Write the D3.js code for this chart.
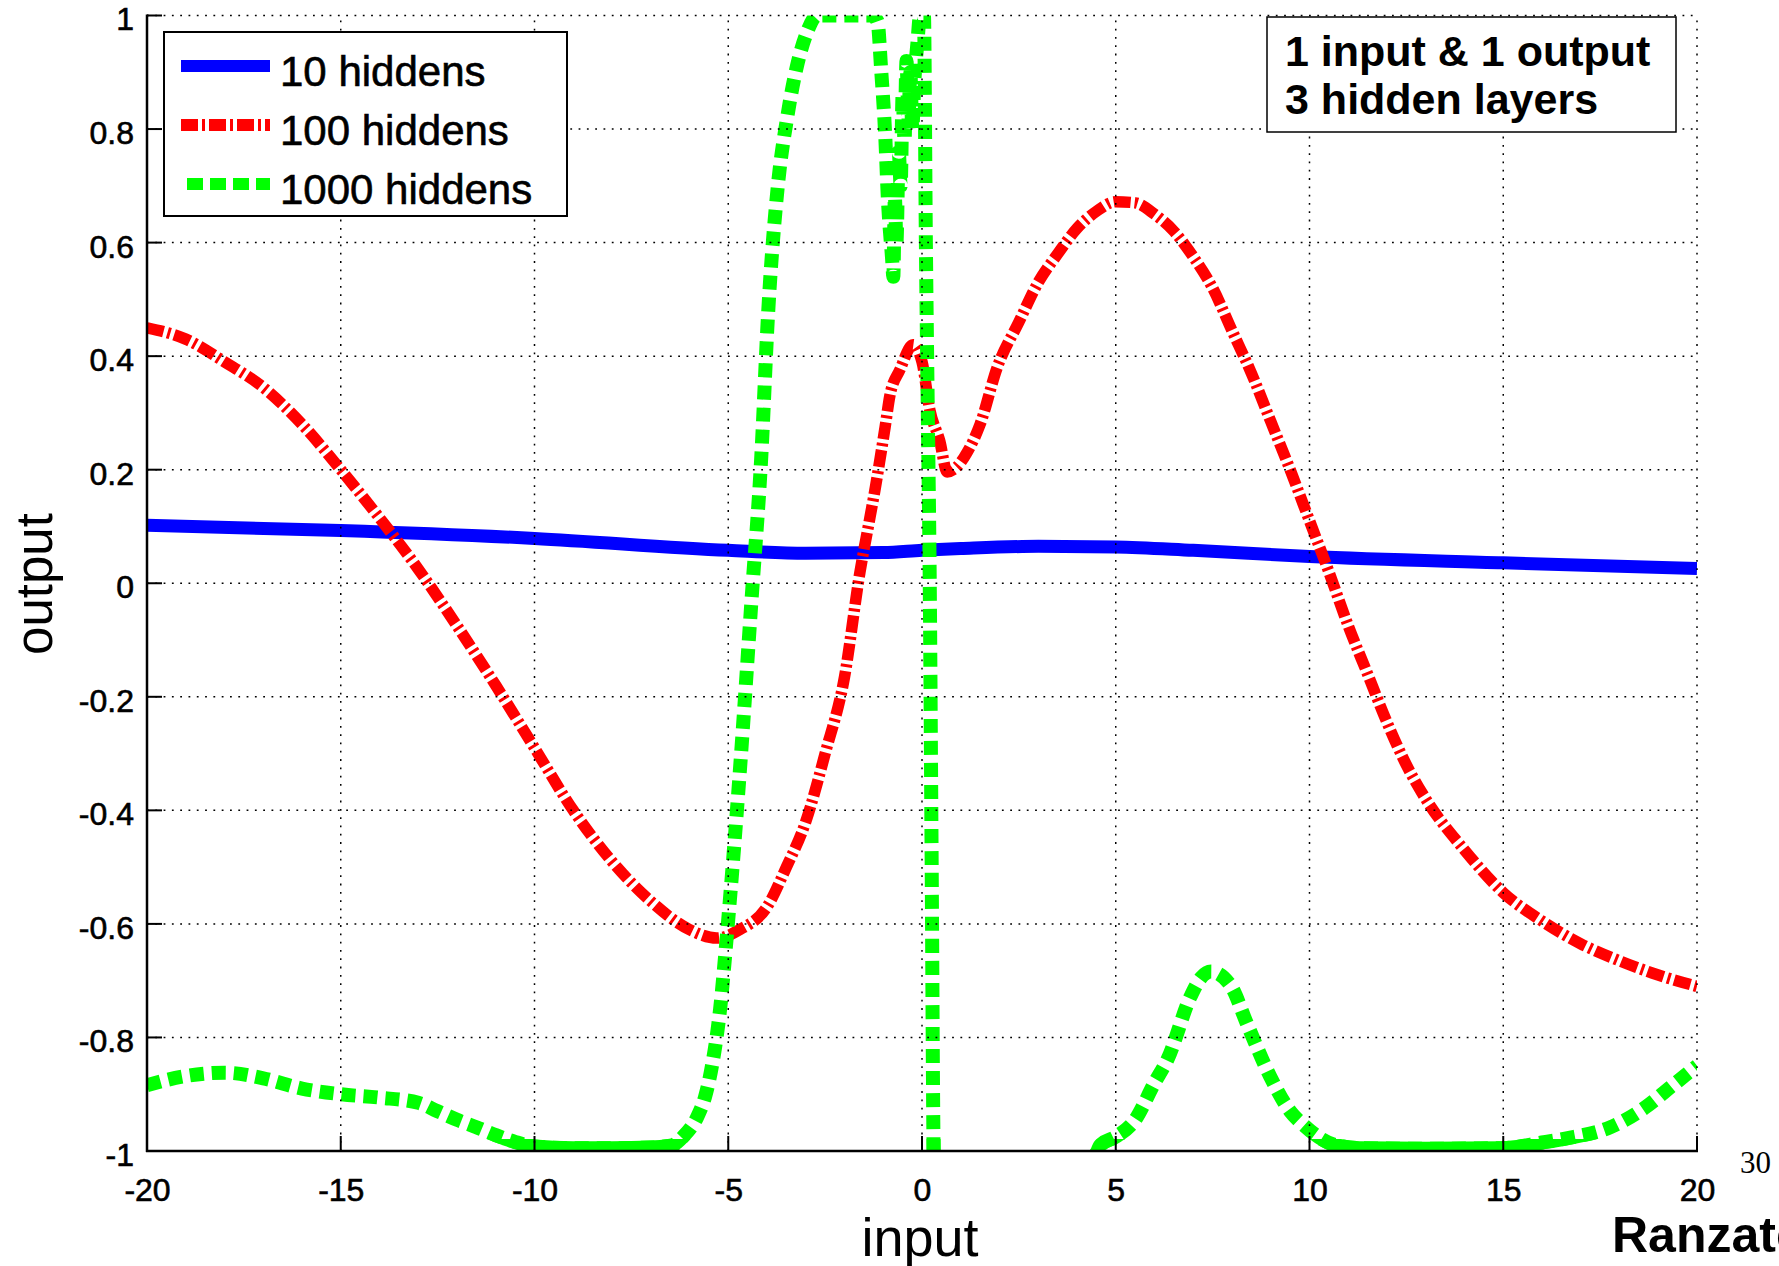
<!DOCTYPE html>
<html>
<head>
<meta charset="utf-8">
<script src="https://cdn.jsdelivr.net/npm/d3@7"></script>
<style>
  html, body { margin: 0; padding: 0; background: #fff; }
  svg { display: block; }
</style>
</head>
<body>
<script>
// ---------- data ----------
const xTicks = [-20, -15, -10, -5, 0, 5, 10, 15, 20];
const xTickLabels = ["-20", "-15", "-10", "-5", "0", "5", "10", "15", "20"];
const yTicks = [-1, -0.8, -0.6, -0.4, -0.2, 0, 0.2, 0.4, 0.6, 0.8, 1];
const yTickLabels = ["-1", "-0.8", "-0.6", "-0.4", "-0.2", "0", "0.2", "0.4", "0.6", "0.8", "1"];

const seriesNames = ["10 hiddens", "100 hiddens", "1000 hiddens"];
const annotationLines = ["1 input & 1 output", "3 hidden layers"];

const blueX = [-20, -15, -10, -5, -3, -1, 0, 1, 3, 5, 7, 10, 15, 20];
const blueY = [0.102, 0.093, 0.079, 0.058, 0.053, 0.054, 0.058, 0.061, 0.065, 0.064, 0.058, 0.047, 0.036, 0.026];

const redX = [-20, -19, -18, -17, -16, -15, -14, -13, -12, -11, -10, -9, -8, -7, -6, -5.3, -4.7, -4, -3.5, -3, -2.5, -2, -1.6,
  -1.34, -1.2, -1.08, -0.95, -0.83, -0.57, -0.23, 0, 0.2, 0.46, 0.65, 0.9, 1.16, 1.5, 1.94, 2.5, 3, 3.5, 4, 4.5, 5, 5.5, 6,
  6.5, 7, 7.5, 8, 8.5, 9, 9.5, 10, 10.5, 11, 11.5, 12, 12.5, 13, 14, 15, 16, 17, 18, 19, 20];
const redY = [0.45, 0.43, 0.39, 0.345, 0.28, 0.20, 0.115, 0.025, -0.075, -0.18, -0.29, -0.40, -0.49, -0.56, -0.61, -0.625, -0.61,
  -0.57, -0.5, -0.42, -0.3, -0.165, 0.02, 0.117, 0.17, 0.22, 0.276, 0.33, 0.376, 0.42, 0.39, 0.306, 0.25, 0.196, 0.205, 0.23,
  0.28, 0.38, 0.46, 0.53, 0.58, 0.625, 0.655, 0.672, 0.67, 0.65, 0.62, 0.575, 0.52, 0.445, 0.37, 0.285, 0.2, 0.11, 0.02, -0.075,
  -0.16, -0.245, -0.32, -0.38, -0.47, -0.545, -0.595, -0.635, -0.665, -0.69, -0.71];

const greenX = [-20, -19, -18, -17, -16, -15, -14, -13, -12.5, -12, -11.5, -11, -10.5, -10, -9, -8, -7, -6.45, -6.17, -5.8,
  -5.6, -5.42, -5.21, -5.03, -4.7, -4.4, -4.15, -3.97, -3.72, -3.48, -3.23, -2.97, -2.7, -2.0, -1.3, -1.15, -1.05, -0.95,
  -0.88, -0.77, -0.74, -0.7, -0.66, -0.6, -0.55, -0.5, -0.45, -0.4, -0.35, -0.3, -0.25, -0.2, -0.12, -0.05, 0.05, 0.1, 0.15,
  0.2, 0.25, 0.3, 0.35, 1, 3, 4.3, 4.6, 5, 5.47, 6, 6.34, 6.93, 7.2, 7.46, 7.96, 8.4, 8.98, 9.5, 9.86, 10.6, 11.3, 13, 15, 16,
  16.6, 17.77, 18.65, 19.38, 20];
const greenY = [-0.884, -0.868, -0.862, -0.872, -0.89, -0.9, -0.906, -0.915, -0.93, -0.945, -0.958, -0.972, -0.984, -0.992,
  -0.995, -0.995, -0.994, -0.99, -0.975, -0.94, -0.905, -0.85, -0.75, -0.616, -0.33, -0.03, 0.22, 0.477, 0.70, 0.82, 0.91,
  0.97, 1.0, 1.0, 1.0, 0.99, 0.9, 0.79, 0.676, 0.57, 0.54, 0.68, 0.6, 0.76, 0.7, 0.86, 0.78, 0.92, 0.82, 0.9, 0.8, 0.88,
  0.95, 1.0, 1.0, 0.6, 0.3, 0.0, -0.5, -1.0, -1.1, -1.2, -1.2, -1.05, -0.99, -0.975, -0.948, -0.88, -0.838, -0.728, -0.695,
  -0.684, -0.708, -0.778, -0.868, -0.93, -0.955, -0.988, -0.995, -0.996, -0.995, -0.985, -0.978, -0.958, -0.924, -0.884, -0.85];

// ---------- layout ----------
const W = 1779, H = 1266;
const plot = { left: 147, right: 1697, top: 15.5, bottom: 1151 };
const FONT = "'Liberation Sans', Arial, Helvetica, sans-serif";

const svg = d3.select("body").append("svg").attr("width", W).attr("height", H)
  .style("font-family", FONT);

const x = d3.scaleLinear().domain([-20, 20]).range([plot.left, plot.right]);
const y = d3.scaleLinear().domain([-1, 1]).range([plot.bottom, plot.top]);

const defs = svg.append("defs");
defs.append("clipPath").attr("id", "plotclip").append("rect")
  .attr("x", plot.left).attr("y", plot.top).attr("width", plot.right - plot.left).attr("height", plot.bottom - plot.top);
defs.append("clipPath").attr("id", "bandclip").append("rect")
  .attr("x", plot.left).attr("y", plot.bottom - 12).attr("width", plot.right - plot.left).attr("height", 12);

const toPts = (xs, ys) => xs.map((v, i) => [v, ys[i]]);
const line = d3.line().x(d => x(d[0])).y(d => y(d[1])).curve(d3.curveMonotoneX);

const g = svg.append("g").attr("clip-path", "url(#plotclip)");

const blue = "#0000ff", red = "#ff0000", green = "#00ff00";

g.append("path").datum(toPts(blueX, blueY)).attr("d", line)
  .attr("fill", "none").attr("stroke", blue).attr("stroke-width", 13);

g.append("path").datum(toPts(redX, redY)).attr("d", line)
  .attr("fill", "none").attr("stroke", red).attr("stroke-width", 11.5)
  .attr("stroke-dasharray", "17,4,3,4");

g.append("path").datum(toPts(greenX, greenY)).attr("d", line)
  .attr("fill", "none").attr("stroke", green).attr("stroke-width", 14)
  .attr("stroke-dasharray", "14,8");

// solid appearance where the green curve rests on the lower bound
svg.append("g").attr("clip-path", "url(#bandclip)")
  .append("path").datum(toPts(greenX, greenY)).attr("d", line)
  .attr("fill", "none").attr("stroke", green).attr("stroke-width", 14);

// ---------- grid (drawn on top, dotted) ----------
const grid = svg.append("g").attr("stroke", "#000").attr("stroke-width", 1.5).attr("stroke-dasharray", "1.8,6.5");
grid.selectAll(".vg").data(xTicks.filter(t => t !== -20)).enter().append("line")
  .attr("x1", d => x(d)).attr("x2", d => x(d)).attr("y1", plot.bottom).attr("y2", plot.top);
grid.selectAll(".hg").data(yTicks.filter(t => t !== -1)).enter().append("line")
  .attr("x1", plot.left).attr("x2", plot.right).attr("y1", d => y(d)).attr("y2", d => y(d));

// ---------- axes ----------
const xAxis = d3.axisBottom(x).tickValues(xTicks).tickSize(0).tickFormat((d, i) => xTickLabels[i]);
const yAxis = d3.axisLeft(y).tickValues(yTicks).tickSize(0).tickFormat((d, i) => yTickLabels[i]);

const gx = svg.append("g").attr("transform", `translate(0,${plot.bottom})`).call(xAxis);
gx.select(".domain").remove();
gx.selectAll("text").attr("font-size", 32).attr("fill", "#000").attr("dy", null).attr("y", 50)
  .attr("stroke", "#000").attr("stroke-width", 0.6)
  .style("font-family", FONT);

const gy = svg.append("g").attr("transform", `translate(${plot.left},0)`).call(yAxis);
gy.select(".domain").remove();
gy.selectAll("text").attr("font-size", 32).attr("fill", "#000").attr("x", -13).attr("dy", "0.45em")
  .attr("stroke", "#000").attr("stroke-width", 0.6)
  .style("font-family", FONT);

// inward tick marks
const ticks = svg.append("g").attr("stroke", "#000").attr("stroke-width", 2);
ticks.selectAll(".xt").data(xTicks).enter().append("line")
  .attr("x1", d => x(d)).attr("x2", d => x(d)).attr("y1", plot.bottom).attr("y2", plot.bottom - 15);
ticks.selectAll(".yt").data(yTicks).enter().append("line")
  .attr("x1", plot.left).attr("x2", plot.left + 15).attr("y1", d => y(d)).attr("y2", d => y(d));

// axis lines
svg.append("line").attr("x1", plot.left).attr("x2", plot.left).attr("y1", plot.top - 1).attr("y2", plot.bottom + 1)
  .attr("stroke", "#000").attr("stroke-width", 2.5);
svg.append("line").attr("x1", plot.left - 1).attr("x2", plot.right + 1).attr("y1", plot.bottom).attr("y2", plot.bottom)
  .attr("stroke", "#000").attr("stroke-width", 2.5);

// axis labels
svg.append("text").attr("x", 920).attr("y", 1256).attr("text-anchor", "middle")
  .attr("font-size", 54).text("input");
svg.append("text").attr("transform", "translate(52,584) rotate(-90)").attr("text-anchor", "middle")
  .attr("font-size", 51).text("output");

// ---------- legend ----------
const lg = svg.append("g");
lg.append("rect").attr("x", 164).attr("y", 32).attr("width", 403).attr("height", 184)
  .attr("fill", "#fff").attr("stroke", "#000").attr("stroke-width", 2);
const legendStyles = [
  { color: blue, w: 12, dash: null, x1: 181 },
  { color: red, w: 12, dash: "17,4,3,4", x1: 181 },
  { color: green, w: 12, dash: "16,7", x1: 187 }
];
const rowY = [66, 125, 184];
seriesNames.forEach((name, i) => {
  const s = legendStyles[i];
  lg.append("line").attr("x1", s.x1).attr("x2", 270).attr("y1", rowY[i]).attr("y2", rowY[i])
    .attr("stroke", s.color).attr("stroke-width", s.w).attr("stroke-dasharray", s.dash);
  lg.append("text").attr("x", 280).attr("y", rowY[i] + 20).attr("font-size", 42)
    .attr("stroke", "#000").attr("stroke-width", 0.6).text(name);
});

// ---------- annotation box ----------
const ab = svg.append("g");
ab.append("rect").attr("x", 1267).attr("y", 17).attr("width", 409).attr("height", 115)
  .attr("fill", "#fff").attr("stroke", "#000").attr("stroke-width", 1.5);
annotationLines.forEach((t, i) => {
  ab.append("text").attr("x", 1285).attr("y", 66 + i * 48).attr("font-size", 43).attr("font-weight", "bold").text(t);
});

// ---------- page extras ----------
svg.append("text").attr("x", 1740).attr("y", 1173).attr("font-size", 31)
  .style("font-family", "'Liberation Serif', 'Times New Roman', serif").text("30");
svg.append("text").attr("x", 1612).attr("y", 1252).attr("font-size", 50).attr("font-weight", "bold").text("Ranzato");
</script>
</body>
</html>
